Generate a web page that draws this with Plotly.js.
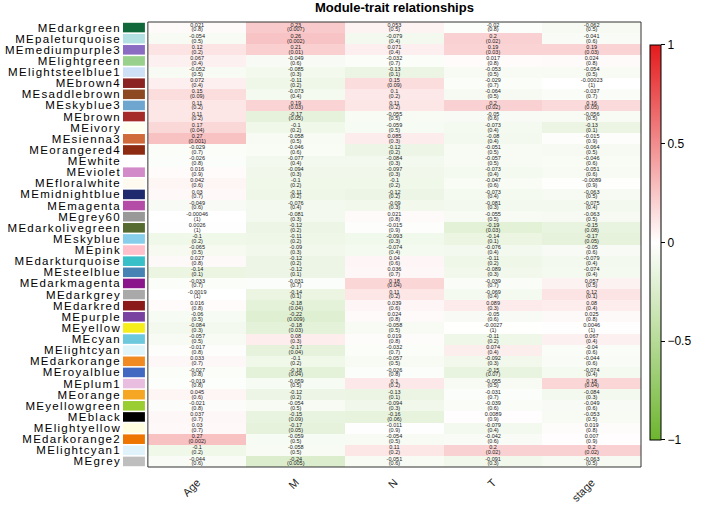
<!DOCTYPE html>
<html>
<head>
<meta charset="utf-8">
<script src="https://cdn.plot.ly/plotly-3.0.1.min.js"></script>
<style>
html,body{margin:0;padding:0;background:#fff;}
#chart{width:704px;height:506px;}
.ytick text{letter-spacing:1.3px;}
</style>
</head>
<body>
<div id="chart"></div>
<script>
const modules = ["MEdarkgreen","MEpaleturquoise","MEmediumpurple3","MElightgreen","MElightsteelblue1","MEbrown4","MEsaddlebrown","MEskyblue3","MEbrown","MEivory","MEsienna3","MEorangered4","MEwhite","MEviolet","MEfloralwhite","MEmidnightblue","MEmagenta","MEgrey60","MEdarkolivegreen","MEskyblue","MEpink","MEdarkturquoise","MEsteelblue","MEdarkmagenta","MEdarkgrey","MEdarkred","MEpurple","MEyellow","MEcyan","MElightcyan","MEdarkorange","MEroyalblue","MEplum1","MEorange","MEyellowgreen","MEblack","MElightyellow","MEdarkorange2","MElightcyan1","MEgrey"];
const moduleColors = ["#11683a","#b3e0e3","#8a6cc2","#98d08c","#cde0f5","#8b2323","#8d4a22","#6ea6d0","#a52a2a","#fffff0","#d06a3a","#8c2a12","#ffffff","#d28ac8","#fffaf0","#1f2a6e","#b44ba6","#999999","#556b2f","#87ceeb","#ffc0cb","#38bfc8","#4682b4","#8b168b","#a9a9a9","#8b1a1a","#7a42a0","#f5ee1a","#6cc8dc","#e0f5fa","#f08a22","#4169c1","#e9bde0","#f5a623","#9acd32","#000000","#ffffe0","#ee7600","#e0f3fa","#bebebe"];
const traits = ["Age","M","N","T","stage"];

const corAge = [0.021,-0.054,0.12,0.067,-0.052,0.072,0.15,0.11,0.11,0.17,0.27,-0.029,-0.026,0.016,0.042,0.03,-0.049,-0.00046,0.0026,-0.1,-0.065,0.027,-0.14,-0.033,-0.0019,0.016,-0.06,-0.084,-0.057,-0.017,0.033,-0.027,-0.019,0.045,-0.021,0.037,0.03,0.27,-0.1,-0.044];
const pAge = [0.8,0.5,0.2,0.4,0.5,0.4,0.09,0.2,0.2,0.04,0.001,0.7,0.8,0.9,0.6,0.7,0.6,1,1,0.2,0.5,0.8,0.1,0.7,1,0.8,0.5,0.3,0.5,0.8,0.7,0.8,0.8,0.6,0.8,0.7,0.7,0.002,0.2,0.6];
const corM = [0.23,0.26,0.21,-0.049,-0.085,-0.11,-0.073,0.19,-0.17,-0.1,-0.058,-0.046,-0.077,-0.094,-0.1,-0.11,-0.076,-0.081,-0.12,-0.11,-0.09,-0.12,-0.12,-0.031,-0.14,-0.18,-0.22,-0.18,0.08,-0.17,-0.1,-0.18,-0.059,-0.12,-0.054,-0.15,-0.17,-0.059,-0.058,-0.24];
const pM = [0.007,0.002,0.01,0.6,0.3,0.2,0.4,0.03,0.05,0.2,0.5,0.6,0.4,0.3,0.2,0.2,0.4,0.3,0.2,0.2,0.3,0.2,0.1,0.7,0.1,0.04,0.009,0.03,0.3,0.04,0.2,0.04,0.5,0.2,0.5,0.09,0.05,0.5,0.5,0.005];
const corN = [0.053,-0.079,0.071,-0.032,-0.13,0.15,0.1,0.11,-0.055,-0.059,0.085,-0.12,-0.084,-0.097,-0.1,-0.12,-0.09,0.021,-0.015,-0.093,-0.074,0.04,0.036,0.18,0.11,0.039,0.024,-0.058,0.019,-0.032,-0.057,-0.026,0.1,-0.13,-0.094,-0.16,-0.011,-0.054,0.11,-0.051];
const pN = [0.5,0.4,0.4,0.7,0.1,0.09,0.2,0.2,0.5,0.5,0.3,0.2,0.3,0.3,0.2,0.2,0.3,0.8,0.9,0.3,0.4,0.6,0.7,0.04,0.2,0.6,0.8,0.5,0.8,0.7,0.5,0.8,0.2,0.1,0.3,0.06,0.9,0.5,0.2,0.6];
const corT = [-0.02,0.2,0.19,0.017,-0.053,-0.029,-0.064,0.2,-0.05,-0.073,-0.08,-0.051,-0.057,-0.073,-0.047,-0.073,-0.081,-0.055,-0.19,-0.14,-0.076,-0.11,-0.089,-0.039,-0.069,0.089,-0.05,-0.0027,-0.11,0.074,-0.092,-0.15,-0.055,-0.031,-0.039,0.0089,-0.079,-0.042,0.2,-0.091];
const pT = [0.8,0.02,0.03,0.8,0.5,0.7,0.5,0.02,0.6,0.4,0.4,0.5,0.5,0.4,0.6,0.4,0.3,0.5,0.03,0.1,0.4,0.2,0.3,0.7,0.4,0.3,0.6,1,0.2,0.4,0.3,0.07,0.5,0.7,0.6,0.9,0.4,0.6,0.02,0.3];
const corStage = [-0.062,-0.041,0.19,0.024,-0.054,-0.00023,-0.037,0.16,-0.056,-0.13,-0.015,-0.064,-0.046,-0.051,-0.0089,-0.063,-0.075,-0.063,-0.15,-0.17,-0.05,-0.079,-0.074,0.057,0.12,0.08,0.025,0.0046,0.067,-0.04,-0.044,-0.074,0.18,-0.084,-0.049,-0.053,0.019,0.007,0.2,-0.063];
const pStage = [0.5,0.6,0.03,0.8,0.5,1,0.7,0.05,0.5,0.1,0.9,0.5,0.6,0.6,0.9,0.5,0.4,0.5,0.08,0.05,0.6,0.4,0.4,0.5,0.1,0.4,0.8,1,0.4,0.6,0.6,0.4,0.04,0.3,0.6,0.5,0.8,0.9,0.02,0.5];

const corCols = [corAge, corM, corN, corT, corStage];
const pCols = [pAge, pM, pN, pT, pStage];
const idx = modules.map((_, i) => i);

const z = idx.map(i => corCols.map(c => c[i]));

const tx = [], tyV = [], tyP = [], tV = [], tP = [];
idx.forEach(i => {
  traits.forEach((t, j) => {
    tx.push(t);
    tyV.push(i - 0.2);
    tyP.push(i + 0.22);
    tV.push(String(corCols[j][i]));
    tP.push("(" + String(pCols[j][i]) + ")");
  });
});

const FONT = "Liberation Sans, Arial, sans-serif";
const cellFont = {family: FONT, size: 5.5, color: "#1a1a1a"};

const data = [
  {
    type: "heatmap",
    x: traits,
    y: idx,
    z: z,
    zmin: -1, zmax: 1,
    colorscale: [[0, "#6db52f"], [0.5, "#ffffff"], [1, "#e41a1c"]],
    hoverinfo: "skip",
    colorbar: {
      x: 1.017, xanchor: "left", xpad: 0,
      y: 0.5045, yanchor: "middle",
      len: 395, lenmode: "pixels",
      thickness: 11, thicknessmode: "pixels",
      outlinecolor: "#000", outlinewidth: 1,
      ticks: "outside", ticklen: 4, tickcolor: "#000",
      tickvals: [-1, -0.5, 0, 0.5, 1],
      ticktext: ["\u22121", "\u22120.5", "0", "0.5", "1"],
      tickfont: {family: FONT, size: 12, color: "#000"},
      ypad: 0
    }
  },
  {
    type: "scatter", mode: "text",
    x: tx, y: tyV, text: tV,
    textfont: cellFont, textposition: "middle center",
    hoverinfo: "skip", showlegend: false
  },
  {
    type: "scatter", mode: "text",
    x: tx, y: tyP, text: tP,
    textfont: cellFont, textposition: "middle center",
    hoverinfo: "skip", showlegend: false
  },
  {
    type: "bar", orientation: "h",
    x: idx.map(() => 1), y: idx,
    xaxis: "x2", yaxis: "y",
    width: 0.86,
    marker: {color: moduleColors, line: {width: 0}},
    hoverinfo: "skip", showlegend: false
  }
];

const layout = {
  width: 704, height: 506,
  margin: {l: 123, r: 61, t: 22, b: 39},
  paper_bgcolor: "#fff", plot_bgcolor: "#fff",
  font: {family: FONT, color: "#000"},
  showlegend: false,
  title: {
    text: "<b>Module-trait relationships</b>",
    font: {family: FONT, size: 13, color: "#000"},
    x: 0.524, xref: "paper", xanchor: "center",
    y: 0.986, yref: "container", yanchor: "middle"
  },
  xaxis: {
    domain: [0.048, 1],
    type: "category",
    range: [-0.5, 4.5],
    tickangle: -45,
    ticks: "",
    ticklabelstandoff: 6,
    tickfont: {family: FONT, size: 11, color: "#222"},
    showgrid: false, zeroline: false,
    fixedrange: true
  },
  xaxis2: {
    domain: [0, 0.0423],
    anchor: "y",
    range: [0, 1],
    visible: false,
    fixedrange: true
  },
  yaxis: {
    range: [39.5, -0.5],
    anchor: "free", position: 0,
    tickmode: "array",
    tickvals: idx,
    ticktext: modules,
    ticks: "",
    ticklabelstandoff: 2,
    tickfont: {family: FONT, size: 11.5, color: "#000"},
    showgrid: false, zeroline: false,
    fixedrange: true
  },
  shapes: [
    {type: "rect", xref: "x domain", yref: "y domain", x0: 0, x1: 1, y0: 0, y1: 1,
     line: {color: "#333", width: 1}, fillcolor: "rgba(0,0,0,0)", layer: "above"}
  ]
};

Plotly.newPlot("chart", data, layout, {displayModeBar: false, staticPlot: true});
</script>
</body>
</html>
